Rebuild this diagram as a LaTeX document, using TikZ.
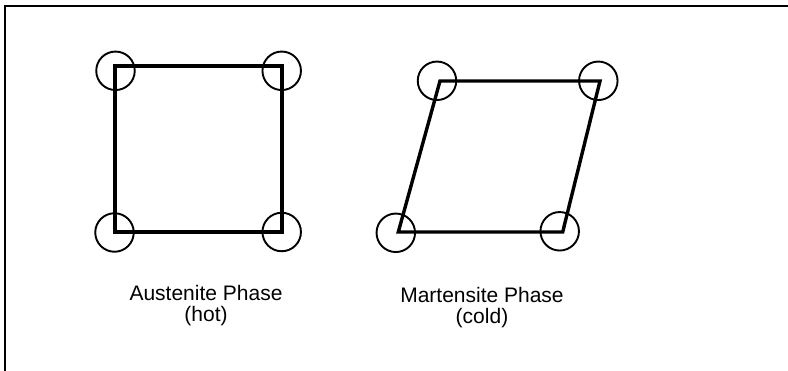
\documentclass[tikz,border=0pt]{standalone}
\usepackage{fontspec}
\setmainfont{Liberation Sans}
\begin{document}
\begin{tikzpicture}[x=1pt,y=-1pt,
  cellline/.style={line width=3.4pt},
  atom/.style={circle,draw,line width=1.9pt,minimum size=38.5pt,inner sep=0pt},
  framelines/.style={line width=2.2pt},
  caption/.style={align=center,anchor=base,inner sep=0pt,font=\fontsize{21}{20.7}\selectfont}]
\useasboundingbox (0,0) rectangle (788,371);
% frame (left and top only)
\coordinate (fbl) at (5,372);
\coordinate (ftl) at (5,6);
\coordinate (ftr) at (789,6);
\draw[framelines] (fbl) -- (ftl) -- (ftr);
% austenite square
\coordinate (s1) at (115,66);
\coordinate (s2) at (282,66);
\coordinate (s3) at (282,232);
\coordinate (s4) at (115,232);
\draw[cellline] (s1) -- (s2) -- (s3) -- (s4) -- cycle;
\node[atom] (a1) at (115.5,70.8) {};
\node[atom] (a2) at (281.7,70.8) {};
\node[atom] (a3) at (281.7,232) {};
\node[atom] (a4) at (114.5,232.5) {};
% martensite parallelogram
\coordinate (p1) at (440,81);
\coordinate (p2) at (600,81);
\coordinate (p3) at (562.7,232);
\coordinate (p4) at (398.3,232);
\draw[cellline] (p1) -- (p2) -- (p3) -- (p4) -- cycle;
\node[atom] (m1) at (437,80.8) {};
\node[atom] (m2) at (598.3,80.8) {};
\node[atom] (m3) at (559.7,231.3) {};
\node[atom] (m4) at (395.8,232.8) {};
% captions
\node[caption] (ta) at (206,321.7) {Austenite Phase\\(hot)};
\node[caption] (tm) at (482,323.3) {Martensite Phase\\(cold)};
\end{tikzpicture}
\end{document}
